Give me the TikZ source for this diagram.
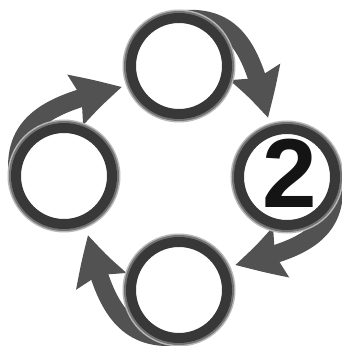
\documentclass[tikz,border=0pt]{standalone}
\usepackage{fontspec}
\newfontfamily\digitfont{Liberation Sans}
\usetikzlibrary{positioning,arrows.meta,bending,backgrounds,calc}
\tikzset{
  ringnode/.style={circle, draw=black!78, line width=10pt, fill=white, minimum size=96pt, inner sep=0pt,
    preaction={draw=black!28, line width=17pt},
    preaction={draw=black!55, line width=14pt}},
  cyclearrow/.style={-{Stealth[length=48pt, width=50pt, inset=6pt, bend]}, line width=18pt, draw=black!68},
  numlabel/.style={inner sep=0pt, text=black!92, font=\digitfont\bfseries\fontsize{98pt}{98pt}\selectfont}
}

\begin{document}
\begin{tikzpicture}[x=1pt, y=1pt]
  \useasboundingbox (0,0) rectangle (341,346);
  \node[ringnode] (c1) at (179,280) {};
  \node[ringnode] (c2) at (287,169) {};
  \node[ringnode] (c3) at (179,56) {};
  \node[ringnode] (c4) at (64,170) {};
  \node[numlabel] (n2) at ([xshift=3pt, yshift=4pt]c2.center) {2};
  \coordinate (t1) at (122,259);
  \coordinate (t2) at (268,228);
  \coordinate (t3) at (235,81);
  \coordinate (t4) at (88,111);
  \begin{scope}[on background layer]
    \draw[cyclearrow] ($(c1)+(105:46)$) .. controls +(12:75) and +(104:60) .. (t2);
    \draw[cyclearrow] ($(c2)+(15:46)$) .. controls +(-78:75) and +(14:60) .. (t3);
    \draw[cyclearrow] ($(c3)+(-75:46)$) .. controls +(-168:75) and +(-76:60) .. (t4);
    \draw[cyclearrow] ($(c4)+(-165:46)$) .. controls +(102:75) and +(-166:60) .. (t1);
  \end{scope}
\end{tikzpicture}
\end{document}
